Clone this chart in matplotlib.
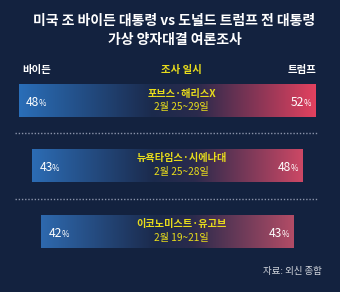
import numpy as np
import matplotlib
matplotlib.use("Agg")
import matplotlib.pyplot as plt
from matplotlib.colors import LinearSegmentedColormap

plt.rcParams['font.family'] = ['Noto Sans CJK KR', 'DejaVu Sans']

# ---- data ----
title_lines = ["미국 조 바이든 대통령 vs 도널드 트럼프 전 대통령", "가상 양자대결 여론조사"]
header_left, header_mid, header_right = "바이든", "조사 일시", "트럼프"
pollsters = ["포브스·해리스X", "뉴욕타임스·시에나대", "이코노미스트·유고브"]
dates = ["2월 25~29일", "2월 25~28일", "2월 19~21일"]
biden = [48, 43, 42]
trump = [52, 48, 43]
source = "자료: 외신 종합"

# ---- style ----
BG = "#13223f"
YELLOW = "#e8dc1c"
W, H = 340, 292
right_cols = ["#e2415f", "#cc4865", "#b24c66"]
left_cols = ["#2a6eb8", "#2c6cb4", "#2e69ae"]
mid_col = "#1b2a4c"
bar_tops = [84, 149, 215]
bar_h = 33
px_per_pt = 2.97
cx = 167.5

fig = plt.figure(figsize=(W / 100, H / 100), dpi=100, facecolor=BG)
ax = fig.add_axes([0, 0, 1, 1])
ax.set_xlim(0, W)
ax.set_ylim(H, 0)
ax.axis('off')
ax.set_facecolor(BG)

# title
ax.text(174, 21, title_lines[0], color="white", fontsize=10, fontweight="bold",
        ha="center", va="center")
ax.text(175, 40, title_lines[1], color="white", fontsize=10, fontweight="bold",
        ha="center", va="center")

# headers
ax.text(37, 70, header_left, color="white", fontsize=7.5, fontweight="bold", ha="center", va="center")
ax.text(181.5, 70, header_mid, color=YELLOW, fontsize=7.5, fontweight="bold", ha="center", va="center")
ax.text(302.5, 70, header_right, color="white", fontsize=7.5, fontweight="bold", ha="center", va="center")

grad = np.linspace(0, 1, 256).reshape(1, -1)
renderer = fig.canvas.get_renderer()
for i in range(len(biden)):
    total = biden[i] + trump[i]
    w = total * px_per_pt
    x0, x1 = cx - w / 2, cx + w / 2
    y0 = bar_tops[i]
    y1 = y0 + bar_h
    cmap = LinearSegmentedColormap.from_list(
        f"g{i}", [(0, left_cols[i]), (0.45, mid_col), (0.6, "#2a2a4c"), (1, right_cols[i])])
    ax.imshow(grad, cmap=cmap, extent=[x0, x1, y1, y0], aspect='auto', zorder=2,
              interpolation='bilinear')
    ym = (y0 + y1) / 2 + 2
    # percent labels (number + small %)
    t = ax.text(x0 + 7, ym, f"{biden[i]}", color="white", fontsize=8.7, ha="left",
                va="center", zorder=3)
    bw = t.get_window_extent(renderer).width
    ax.text(x0 + 7 + bw - 0.5, ym + 0.8, "%", color="white", fontsize=5.8, ha="left",
            va="center", zorder=3)
    tp = ax.text(x1 - 5, ym + 0.8, "%", color="white", fontsize=5.8, ha="right",
                 va="center", zorder=3)
    pw = tp.get_window_extent(renderer).width
    ax.text(x1 - 5 - pw + 0.5, ym, f"{trump[i]}", color="white", fontsize=8.7, ha="right",
            va="center", zorder=3)
    # pollster / date
    ax.text(181.5, y0 + 9.5, pollsters[i], color=YELLOW, fontsize=7.3, fontweight="bold",
            ha="center", va="center", zorder=3)
    ax.text(181.5, y0 + 23, dates[i], color=YELLOW, fontsize=7.3, fontweight="medium",
            ha="center", va="center", zorder=3)

# dotted separators
for y in [133, 199]:
    ax.plot([15, 318], [y, y], color="#8a93aa", lw=1.0, linestyle=(0, (1, 1.3)), zorder=1)

ax.text(322, 271, source, color="#d3d7de", fontsize=6.8, ha="right", va="center")

fig.savefig("out.png", dpi=100, facecolor=BG)
